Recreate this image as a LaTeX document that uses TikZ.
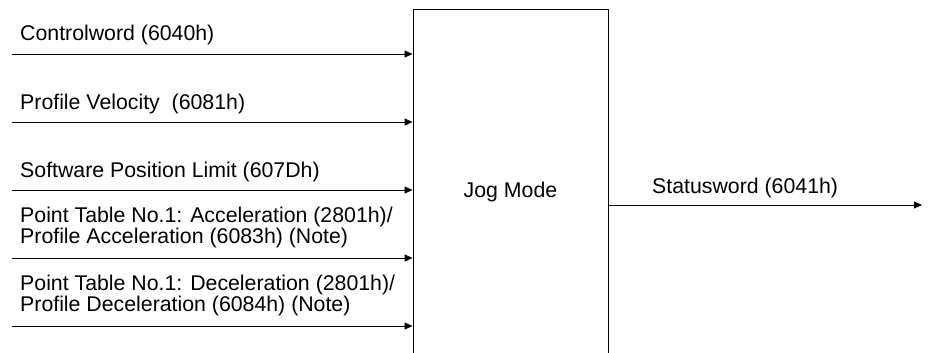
\documentclass[tikz,border=0pt]{standalone}
\usepackage{fontspec}
\setmainfont{Liberation Sans}
\usetikzlibrary{arrows.meta}

\begin{document}
\begin{tikzpicture}[x=1pt, y=-1pt,
		lbl/.style={inner sep=0pt, anchor=base west, align=left, font=\fontsize{21.3}{21}\selectfont},
		sig/.style={line width=0.9pt, -{Triangle[length=8pt, width=7pt]}}]
			%%%%% START %%%%%
			
			\useasboundingbox (0, 0) rectangle (929, 353);
			\clip (0, 0) rectangle (929, 353);
			
			\node[draw, line width=0.9pt, minimum width=195, minimum height=365, inner sep=0pt, font=\fontsize{21.3}{21}\selectfont] (jog) at (510.5, 191.5) {Jog Mode};
			
			\node[lbl] (ctrl) at (20, 41) {Controlword (6040h)};
			\node[lbl] (vel) at (20, 109) {Profile Velocity\ \ (6081h)};
			\node[lbl] (lim) at (20, 177) {Software Position Limit (607Dh)};
			\node[lbl] (acc) at (20, 243) {Point Table No.1: Acceleration (2801h)/\\Profile Acceleration (6083h) (Note)};
			\node[lbl] (dec) at (20, 311) {Point Table No.1: Deceleration (2801h)/\\Profile Deceleration (6084h) (Note)};
			\node[lbl] (stat) at (652, 193) {Statusword (6041h)};
			
			\coordinate (inctrl) at (12, 54);
			\coordinate (invel) at (12, 122);
			\coordinate (inlim) at (12, 190);
			\coordinate (inacc) at (12, 258);
			\coordinate (indec) at (12, 326);
			\coordinate (outstat) at (922, 205);
			
			\draw[sig] (inctrl) -- (inctrl -| jog.west);
			\draw[sig] (invel) -- (invel -| jog.west);
			\draw[sig] (inlim) -- (inlim -| jog.west);
			\draw[sig] (inacc) -- (inacc -| jog.west);
			\draw[sig] (indec) -- (indec -| jog.west);
			
			\draw[sig] (jog.east |- outstat) -- (outstat);
			
			%%%%% END %%%%%
\end{tikzpicture}
\end{document}
